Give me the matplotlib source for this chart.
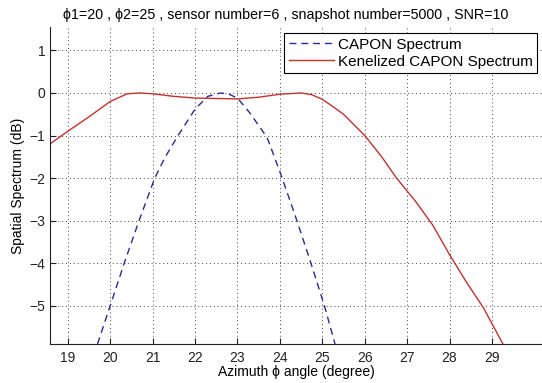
#!/usr/bin/env python3

import matplotlib
matplotlib.use("Agg")
import matplotlib.pyplot as plt

plt.rcParams['font.family'] = ['Liberation Sans', 'DejaVu Sans']

# CAPON spectrum (dB)
capon_x = [19.7, 20.0, 20.33, 20.68, 21.05, 21.3, 21.6, 22.0, 22.3, 22.6,
           22.8, 23.0, 23.3, 23.7, 24.0, 24.35, 24.7, 25.05, 25.3]
capon_y = [-5.9, -5.0, -4.0, -3.0, -2.0, -1.5, -1.0, -0.38, -0.08, 0.0,
           -0.03, -0.12, -0.48, -1.05, -1.85, -2.85, -3.9, -5.0, -5.9]

# Kernelized CAPON spectrum (dB)
kcapon_x = [18.55, 19.0, 19.5, 20.0, 20.4, 20.7, 21.0, 21.5, 22.0, 22.5,
            23.0, 23.5, 24.0, 24.5, 24.75, 25.0, 25.25, 25.5, 26.0, 26.4,
            26.75, 27.2, 27.6, 28.0, 28.4, 28.8, 29.27]
kcapon_y = [-1.22, -0.9, -0.56, -0.2, -0.02, 0.0, -0.02, -0.08, -0.12, -0.13,
            -0.14, -0.10, -0.03, 0.0, -0.04, -0.15, -0.32, -0.5, -1.0, -1.5,
            -2.0, -2.55, -3.1, -3.8, -4.45, -5.05, -5.92]

xticks = [19, 20, 21, 22, 23, 24, 25, 26, 27, 28, 29]
yticks = [-5, -4, -3, -2, -1, 0, 1]

fig = plt.figure(figsize=(5.42, 3.83), dpi=100)
ax = fig.add_axes([50 / 542, 1 - 344 / 383, 1 - 50 / 542, (344 - 27) / 383])

ax.plot(capon_x, capon_y, color='#2a2a9a', lw=1.0, dashes=(5, 3.5),
        label='CAPON Spectrum')
ax.plot(kcapon_x, kcapon_y, color='#c83030', lw=1.0,
        label='Kenelized CAPON Spectrum')

ax.set_xlim(18.58, 30.18)
ax.set_ylim(-5.9, 1.55)
ax.set_xticks(xticks)
ax.set_yticks(yticks)
ax.tick_params(direction='in', length=4, width=0.8, labelsize=10,
               colors='#222222')
ax.tick_params(axis='x', pad=5)
ax.grid(True, linestyle=(0, (1, 3)), color='#444444', lw=0.7)
ax.spines['top'].set_visible(False)
ax.spines['right'].set_visible(False)
for s in ('left', 'bottom'):
    ax.spines[s].set_color('#222222')

ax.set_xlabel('Azimuth ϕ angle (degree)', fontsize=10, labelpad=0)
ax.set_ylabel('Spatial Spectrum (dB)', fontsize=10, labelpad=3)

fig.text(286 / 542, 1 - 15 / 383,
         'ϕ1=20 , ϕ2=25 , sensor number=6 , snapshot number=5000 , SNR=10',
         ha='center', va='center', fontsize=10.3)

leg = ax.legend(loc='upper right', bbox_to_anchor=(537 / 542, 1 - 33 / 383),
                bbox_transform=fig.transFigure, fontsize=11, frameon=True,
                fancybox=False, borderpad=0.3, labelspacing=0.2,
                handlelength=3.0, handletextpad=0.2, borderaxespad=0)
leg.get_frame().set_edgecolor('black')
leg.get_frame().set_linewidth(0.8)
leg.get_frame().set_alpha(1)

fig.savefig('out.png', dpi=100)
